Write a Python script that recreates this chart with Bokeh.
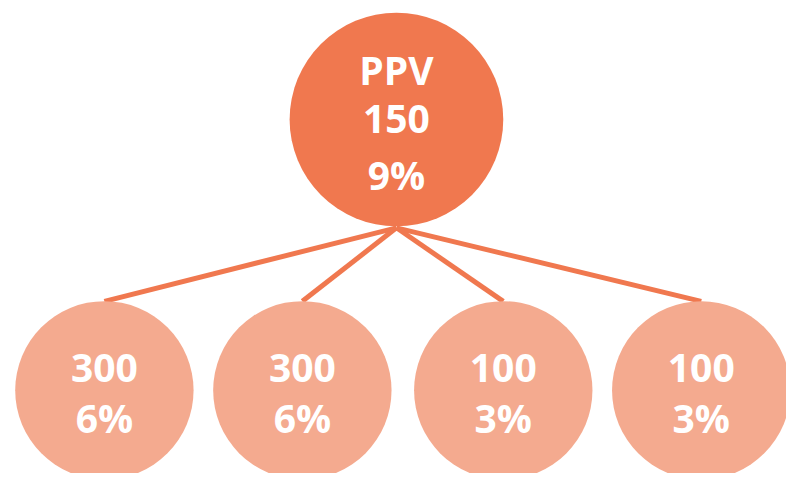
from bokeh.plotting import figure
from bokeh.models import Range1d
from bokeh.core.properties import value
from bokeh.embed import file_html
from bokeh.resources import INLINE

# Data
root_label = "PPV"
root_value = 150
root_pct = "9%"
child_values = [300, 300, 100, 100]
child_pcts = ["6%", "6%", "3%", "3%"]

# Layout (reference-pixel coordinates)
root_x, root_y, root_r = 404, 123, 109
child_x = [106, 308, 513, 715]
child_y = 403
child_r = 91
line_top_y = 235
line_bot_y = 311

W, H = 786, 473
p = figure(width=W, height=H, output_backend="svg", toolbar_location=None,
           x_range=Range1d(0, 802), y_range=Range1d(489, 0),
           min_border=0, background_fill_color="white", border_fill_color="white")
p.axis.visible = False
p.grid.visible = False
p.outline_line_color = None

dark = "#F0784F"
light = "#F4AA8F"

# connecting lines
p.segment(x0=[root_x] * len(child_x), y0=[line_top_y] * len(child_x),
          x1=child_x, y1=[line_bot_y] * len(child_x),
          line_color=dark, line_width=5)

# circles
p.circle(x=[root_x], y=[root_y], radius=root_r, fill_color=dark, line_color=None)
p.circle(x=child_x, y=[child_y] * len(child_x), radius=child_r,
         fill_color=light, line_color=None)

font = value("Open Sans")
fs = "39px"
root_lines = [root_label, str(root_value), root_pct]
p.text(x=[root_x] * 3, y=[root_y - 52, root_y, root_y + 57], text=root_lines,
       text_align="center", text_baseline="middle", text_color="white",
       text_font=font, text_font_style="bold", text_font_size=fs)

p.text(x=child_x, y=[child_y - 23] * len(child_x), text=[str(v) for v in child_values],
       text_align="center", text_baseline="middle", text_color="white",
       text_font=font, text_font_style="bold", text_font_size=fs)
p.text(x=child_x, y=[child_y + 28] * len(child_x), text=child_pcts,
       text_align="center", text_baseline="middle", text_color="white",
       text_font=font, text_font_style="bold", text_font_size=fs)

open("out.html", "w").write(file_html(p, INLINE))
